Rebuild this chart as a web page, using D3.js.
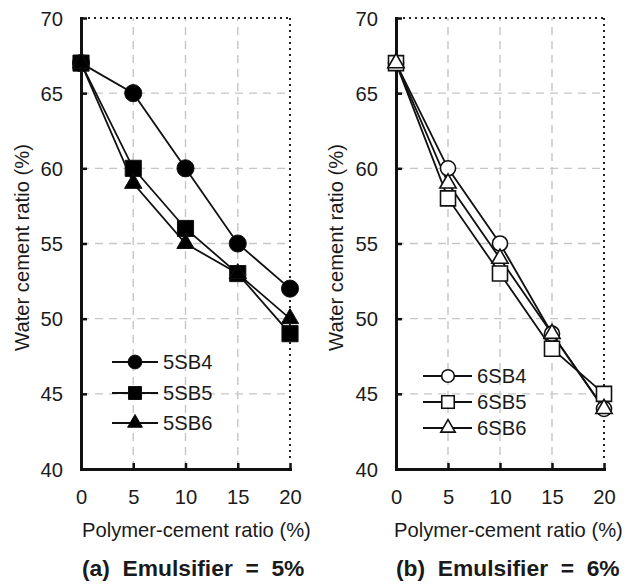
<!DOCTYPE html>
<html>
<head>
<meta charset="utf-8">
<script src="https://cdn.jsdelivr.net/npm/d3@7"></script>
<style>
  html, body { margin: 0; padding: 0; background: #fff; }
  svg { display: block; }
  text { font-family: "Liberation Sans", Arial, Helvetica, sans-serif; fill: #1a1a1a; }
</style>
</head>
<body>
<svg id="chart" width="633" height="584"></svg>
<script>
// Polymer-cement ratio (%) on the x axis
const polymerRatio = [0, 5, 10, 15, 20];
const xTicks = [0, 5, 10, 15, 20];
const yTicks = [40, 45, 50, 55, 60, 65, 70];

// Water cement ratio (%), emulsifier = 5%
const names5 = ["5SB4", "5SB5", "5SB6"];
const wc5SB4 = [67, 65, 60, 55, 52];
const wc5SB5 = [67, 60, 56, 53, 49];
const wc5SB6 = [67, 59, 55, 53, 50];

// Water cement ratio (%), emulsifier = 6%
const names6 = ["6SB4", "6SB5", "6SB6"];
const wc6SB4 = [67, 60, 55, 49, 44];
const wc6SB5 = [67, 58, 53, 48, 45];
const wc6SB6 = [67, 59, 54, 49, 44];

const panelTitles = ["(a)  Emulsifier  =  5%", "(b)  Emulsifier  =  6%"];
const xLabel = "Polymer-cement ratio (%)";
const yLabel = "Water cement ratio (%)";

const svg = d3.select("#chart");
const FONT = 20.2;

const shapes = [d3.symbolCircle, d3.symbolSquare, d3.symbolTriangle];

const panels = [
  {
    x0: 81, x1: 290, names: names5, series: [wc5SB4, wc5SB5, wc5SB6],
    filled: true, title: panelTitles[0],
    sizes: [230, 260, 130], legendSizes: [150, 169, 95],
    legend: { x1: 112, x2: 158, mx: 135, tx: 163, rows: [362, 393, 423] },
    yLabelX: 22, xLabelX: 82, titleX: 82
  },
  {
    x0: 396, x1: 604, names: names6, series: [wc6SB4, wc6SB5, wc6SB6],
    filled: false, title: panelTitles[1],
    sizes: [180, 225, 115], legendSizes: [125, 156, 90],
    legend: { x1: 423, x2: 472, mx: 448, tx: 477, rows: [376, 402, 428] },
    yLabelX: 336, xLabelX: 394, titleX: 396
  }
];

const yTop = 18, yBottom = 469;

panels.forEach(p => {
  const x = d3.scaleLinear().domain([0, 20]).range([p.x0, p.x1]);
  const y = d3.scaleLinear().domain([40, 70]).range([yBottom, yTop]);
  const g = svg.append("g");

  // dashed grid
  g.selectAll(".gx").data(xTicks.filter(v => v > 0 && v < 20)).join("line")
    .attr("x1", d => x(d)).attr("x2", d => x(d))
    .attr("y1", y(40)).attr("y2", y(70))
    .attr("stroke", "#c6c6c6").attr("stroke-width", 1.4).attr("stroke-dasharray", "8,6");
  g.selectAll(".gy").data(yTicks.filter(v => v > 40 && v < 70)).join("line")
    .attr("x1", x(0)).attr("x2", x(20))
    .attr("y1", d => y(d)).attr("y2", d => y(d))
    .attr("stroke", "#c6c6c6").attr("stroke-width", 1.4).attr("stroke-dasharray", "8,6");

  // dotted frame on top and right
  g.append("line").attr("x1", x(0) + 7).attr("x2", x(20)).attr("y1", y(70)).attr("y2", y(70))
    .attr("stroke", "#222").attr("stroke-width", 2).attr("stroke-dasharray", "2,4");
  g.append("line").attr("x1", x(20)).attr("x2", x(20)).attr("y1", y(70)).attr("y2", y(40) - 7)
    .attr("stroke", "#222").attr("stroke-width", 2).attr("stroke-dasharray", "2,4");

  // axes
  const ax = g.append("g").attr("transform", `translate(0,${yBottom})`)
    .call(d3.axisBottom(x).tickValues(xTicks).tickSizeInner(-6).tickSizeOuter(0).tickPadding(21));
  const ay = g.append("g").attr("transform", `translate(${p.x0},0)`)
    .call(d3.axisLeft(y).tickValues(yTicks).tickSizeInner(-6).tickSizeOuter(0).tickPadding(18));
  [ax, ay].forEach(a => {
    a.select(".domain").attr("stroke", "#111").attr("stroke-width", 3).attr("stroke-linecap", "square");
    a.selectAll(".tick line").attr("stroke", "#111").attr("stroke-width", 2.5);
    a.selectAll(".tick text").attr("font-size", FONT).attr("font-family", null).style("fill", "#1a1a1a");
  });
  ay.selectAll(".tick text").attr("dy", "0.35em");

  // series lines and markers
  const line = d3.line().x((d, i) => x(polymerRatio[i])).y(d => y(d));
  p.series.forEach(vals => {
    g.append("path").datum(vals).attr("d", line)
      .attr("fill", "none").attr("stroke", "#111").attr("stroke-width", 1.8);
  });
  p.series.forEach((vals, si) => {
    g.selectAll(null).data(vals).join("path")
      .attr("transform", (d, i) => `translate(${x(polymerRatio[i])},${y(d)})`)
      .attr("d", d3.symbol(shapes[si], p.sizes[si]))
      .attr("fill", p.filled ? "#000" : "#fff")
      .attr("stroke", "#111").attr("stroke-width", p.filled ? 1 : 1.6);
  });

  // legend
  const L = p.legend;
  p.names.forEach((name, si) => {
    const ry = L.rows[si];
    g.append("line").attr("x1", L.x1).attr("x2", L.x2).attr("y1", ry).attr("y2", ry)
      .attr("stroke", "#111").attr("stroke-width", 1.8);
    g.append("path").attr("transform", `translate(${L.mx},${ry})`)
      .attr("d", d3.symbol(shapes[si], p.legendSizes[si]))
      .attr("fill", p.filled ? "#000" : "#fff")
      .attr("stroke", "#111").attr("stroke-width", p.filled ? 1 : 1.6);
    g.append("text").attr("x", L.tx).attr("y", ry).attr("dy", "0.35em")
      .attr("font-size", FONT).text(name);
  });

  // axis titles
  g.append("text").attr("transform", `translate(${p.yLabelX},${(yTop + yBottom) / 2 + 4}) rotate(-90)`)
    .attr("text-anchor", "middle").attr("dy", "0.35em").attr("font-size", FONT).text(yLabel);
  g.append("text").attr("x", p.xLabelX).attr("y", 537).attr("font-size", FONT).text(xLabel);

  // panel caption
  g.append("text").attr("x", p.titleX).attr("y", 576).attr("font-size", 22.8)
    .attr("font-weight", "bold").style("white-space", "pre").text(p.title);
});
</script>
</body>
</html>
